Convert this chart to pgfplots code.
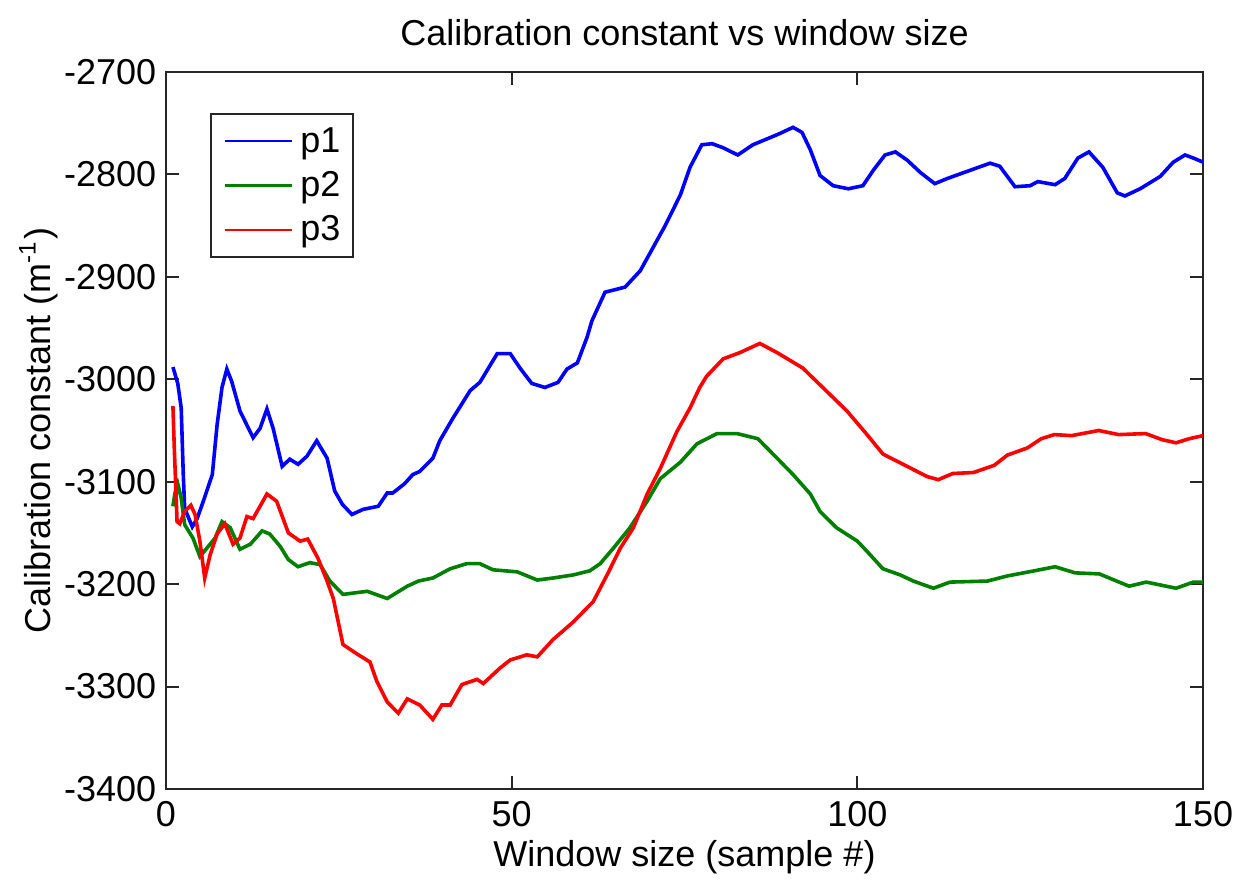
\documentclass[border=0pt]{standalone}
\usepackage{fontspec}
\setmainfont{Liberation Sans}
\usepackage{pgfplots}
\usepackage{pgfplotstable}
\pgfplotsset{compat=1.18}

\definecolor{pone}{RGB}{0,0,255}
\definecolor{ptwo}{RGB}{0,128,0}
\definecolor{pthree}{RGB}{255,0,0}
\definecolor{axgray}{RGB}{38,38,38}

% p1: calibration constant against window size
\pgfplotstableread{
x y
1 -2988
1.7 -3004
2.2 -3028
2.5 -3093
2.7 -3126
3.8 -3144
4.5 -3136
5.4 -3119
6.7 -3093
7.4 -3044
8.1 -3008
8.8 -2990
9.5 -3002
10.7 -3031
12.6 -3057
13.6 -3048
14.6 -3029
15.5 -3048
16.8 -3085
17.9 -3078
19.1 -3083
20.4 -3075
21.8 -3060
23.3 -3077
24.4 -3109
25.5 -3122
26.9 -3132
28.5 -3127
30.7 -3124
32.0 -3111
32.8 -3111
34.5 -3102
35.7 -3093
36.7 -3090
38.6 -3077
39.6 -3060
41.5 -3038
44.0 -3011
45.4 -3003
47.9 -2975
49.8 -2975
51.2 -2989
52.9 -3004
54.8 -3008
56.7 -3003
58.0 -2990
59.5 -2984
60.9 -2959
61.6 -2943
63.5 -2915
66.4 -2910
68.6 -2894
72.2 -2850
74.4 -2820
75.8 -2793
77.5 -2771
79.0 -2770
80.6 -2774
82.7 -2781
84.9 -2771
87.4 -2764
88.8 -2760
90.7 -2754
92.0 -2759
93.2 -2776
94.6 -2801
96.5 -2811
98.7 -2814
100.8 -2811
102.3 -2796
104.0 -2781
105.5 -2778
107.2 -2786
109.1 -2798
111.2 -2809
113.0 -2804
116.3 -2796
119.2 -2789
120.6 -2792
122.8 -2812
125.0 -2811
126.1 -2807
128.6 -2810
130.0 -2804
131.9 -2784
133.5 -2778
135.5 -2793
137.6 -2818
138.7 -2821
140.9 -2814
143.8 -2802
145.7 -2788
147.4 -2781
148.6 -2784
150.0 -2788
}\pone

% p2
\pgfplotstableread{
x y
1 -3124
1.3 -3111
1.7 -3102
2.2 -3116
2.7 -3142
3.9 -3155
4.9 -3173
5.9 -3165
7.1 -3155
8.1 -3139
9.3 -3145
10.7 -3166
12.2 -3161
13.9 -3148
15.0 -3151
16.5 -3163
17.7 -3176
19.1 -3183
20.8 -3179
22.3 -3181
23.7 -3197
25.6 -3210
29.1 -3207
32.0 -3214
34.9 -3202
36.5 -3197
38.6 -3194
41.1 -3185
43.5 -3180
45.4 -3180
47.3 -3186
50.8 -3188
53.7 -3196
56.0 -3194
58.9 -3191
61.3 -3187
62.8 -3180
64.7 -3165
67.1 -3145
69.6 -3119
71.5 -3097
74.4 -3081
76.8 -3063
79.7 -3053
82.6 -3053
85.6 -3058
87.8 -3073
90.7 -3093
93.2 -3112
94.6 -3129
97.0 -3145
100.0 -3158
101.4 -3168
103.7 -3185
106.2 -3191
108.1 -3197
111.0 -3204
113.4 -3198
118.8 -3197
121.7 -3192
125.6 -3187
128.6 -3183
131.5 -3189
135.0 -3190
139.3 -3202
141.8 -3198
146.1 -3204
148.6 -3198
150.0 -3198
}\ptwo

% p3
\pgfplotstableread{
x y
1 -3026
1.2 -3067
1.6 -3139
2.0 -3141
2.7 -3129
3.6 -3123
4.2 -3132
4.9 -3158
5.6 -3194
6.4 -3171
7.4 -3151
8.5 -3141
9.7 -3161
10.7 -3155
11.7 -3134
12.6 -3136
14.6 -3112
16.0 -3119
17.7 -3150
19.4 -3158
20.5 -3156
22.0 -3175
23.3 -3197
24.2 -3214
25.6 -3259
27.6 -3268
29.5 -3276
30.5 -3295
32.0 -3315
33.6 -3326
34.9 -3312
36.7 -3318
38.6 -3332
39.9 -3318
41.1 -3318
42.8 -3298
45.0 -3293
45.9 -3297
48.3 -3282
49.8 -3274
52.2 -3269
53.7 -3271
56.0 -3254
58.9 -3237
61.8 -3217
63.8 -3191
65.7 -3165
67.6 -3145
69.6 -3112
71.5 -3087
73.9 -3051
75.8 -3028
77.2 -3008
78.2 -2997
80.6 -2980
83.0 -2974
85.9 -2965
88.4 -2974
92.1 -2989
95.0 -3008
98.5 -3031
101.4 -3054
103.7 -3073
107.2 -3085
110.1 -3095
111.7 -3098
113.8 -3092
116.8 -3091
119.8 -3084
121.7 -3074
124.6 -3067
126.6 -3058
128.5 -3054
131.0 -3055
134.9 -3050
137.8 -3054
141.7 -3053
144.1 -3059
146.1 -3062
148.0 -3058
150.0 -3055
}\pthree

\begin{document}
\begin{tikzpicture}[font=\fontsize{9}{10.8}\selectfont]
\useasboundingbox (-41.5pt,-23.75pt) rectangle (267.75pt,197.25pt);
\begin{axis}[
  at={(0pt,0pt)}, anchor=south west,
  scale only axis, width=259.25pt, height=179.25pt,
  xmin=0, xmax=150, ymin=-3400, ymax=-2700,
  xtick={0,50,100,150},
  xticklabels={0,50,100,150},
  ytick={-3400,-3300,-3200,-3100,-3000,-2900,-2800,-2700},
  yticklabels={-3400,-3300,-3200,-3100,-3000,-2900,-2800,-2700},
  tick align=inside, tick pos=both, major tick length=3.2pt,
  axis line style={axgray, line width=0.5pt},
  every tick/.style={axgray, line width=0.5pt},
  xticklabel style={anchor=base, yshift=-9.5pt, inner sep=0pt},
  yticklabel style={anchor=east, xshift=-2.25pt, inner sep=0pt},
  title={Calibration constant vs window size},
  title style={at={(axis description cs:0.5,1)}, anchor=base, yshift=0.6pt, inner sep=0pt},
  xlabel={Window size (sample \#)},
  xlabel style={at={(axis description cs:0.5,0)}, anchor=base, yshift=-19.5pt, inner sep=0pt},
  ylabel={Calibration constant (m\textsuperscript{-1})},
  ylabel style={at={(axis description cs:0,0.5)}, anchor=base, yshift=28.75pt, inner sep=0pt},
  legend style={at={(axis description cs:0.0424,0.9428)}, anchor=north west,
    draw=axgray, line width=0.5pt, fill=white,
    inner xsep=3.25pt, inner ysep=3pt, row sep=3.5pt, column sep=1.75pt,
    nodes={inner sep=0pt, text height=6.5pt, text depth=1.1pt, anchor=west}},
  legend cell align=left,
  legend image code/.code={\draw[#1, line width=0.6pt] (0pt,0pt) -- (16.75pt,0pt);},
]
\addplot[pone, line width=0.9pt] table {\pone};
\addlegendentry{p1}
\addplot[ptwo, line width=0.9pt] table {\ptwo};
\addlegendentry{p2}
\addplot[pthree, line width=0.9pt] table {\pthree};
\addlegendentry{p3}
\end{axis}
\end{tikzpicture}
\end{document}
